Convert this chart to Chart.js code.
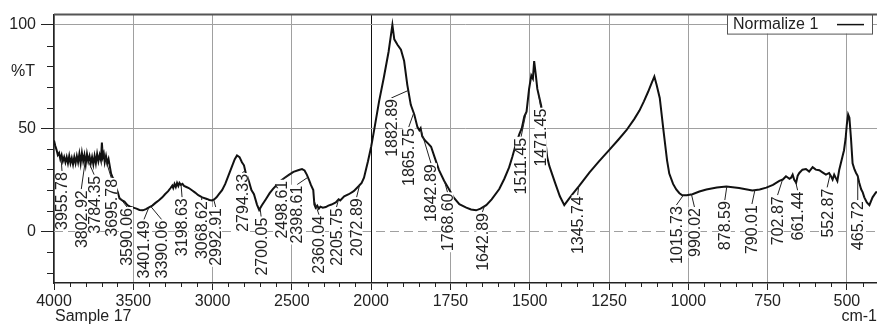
<!DOCTYPE html>
<html>
<head>
<meta charset="utf-8">
<title>Sample 17 - IR spectrum</title>
<script src="https://cdn.jsdelivr.net/npm/chart.js@4.4.1/dist/chart.umd.min.js"></script>
<style>
  html, body { margin: 0; padding: 0; background: #fff; }
  #chartBox { width: 877px; height: 329px; }
</style>
</head>
<body>
<div id="chartBox"><canvas id="irChart" width="877" height="329"></canvas></div>
<script>
// Spectrum: wavenumber (cm-1) and %T
const wavenumbers = [
  4000, 3992, 3984, 3976, 3968, 3960, 3952, 3944, 3936, 3928, 3920, 3912, 3904, 3896, 3888, 3880,
  3872, 3864, 3856, 3848, 3840, 3832, 3824, 3816, 3808, 3800, 3792, 3784, 3776, 3768, 3760, 3752,
  3744, 3736, 3728, 3720, 3712, 3704, 3698, 3692, 3686, 3680, 3672, 3664, 3656, 3648, 3640, 3630,
  3619, 3608, 3598, 3587, 3570, 3556, 3537, 3520, 3500, 3480, 3461, 3440, 3420, 3398, 3380, 3360,
  3340, 3317, 3300, 3280, 3265, 3254, 3248, 3240, 3232, 3224, 3216, 3209, 3200, 3190, 3180, 3165,
  3150, 3128, 3110, 3090, 3065, 3040, 3020, 3003, 2990, 2975, 2960, 2940, 2920, 2900, 2877, 2860,
  2846, 2830, 2815, 2802, 2790, 2783, 2770, 2755, 2739, 2720, 2706, 2690, 2664, 2640, 2620, 2594,
  2570, 2545, 2519, 2490, 2456, 2436, 2420, 2405, 2392, 2380, 2365, 2358, 2350, 2340, 2330, 2320,
  2305, 2286, 2270, 2250, 2223, 2205, 2195, 2170, 2141, 2110, 2078, 2060, 2045, 2033, 2020, 2010,
  2000, 1991, 1975, 1960, 1945, 1933, 1927, 1917, 1906, 1896, 1886, 1875, 1864, 1854, 1848, 1844,
  1839, 1830, 1820, 1811, 1800, 1786, 1770, 1754, 1740, 1722, 1700, 1685, 1669, 1655, 1637, 1620,
  1596, 1580, 1565, 1555, 1545, 1533, 1525, 1517, 1510, 1502, 1495, 1490, 1486, 1481, 1476, 1470,
  1464, 1455, 1445, 1438, 1420, 1405, 1391, 1380, 1365, 1344, 1312, 1281, 1249, 1220, 1195, 1170,
  1154, 1140, 1127, 1115, 1107, 1100, 1090, 1078, 1067, 1060, 1048, 1038, 1028, 1019, 1005, 987,
  965, 943, 910, 880, 840, 798, 775, 754, 733, 713, 702, 692, 681, 676, 671, 666,
  660, 655, 650, 640, 629, 619, 608, 598, 587, 577, 566, 556, 550, 545, 540, 535,
  530, 524, 519, 514, 509, 504, 500, 496, 492, 487, 482, 476, 471, 466, 461, 455,
  450, 445, 437, 429, 419, 408, 400
];
const transmittance = [
  44, 41.5, 39.5, 37, 38, 35, 37, 34, 36, 33.5, 36, 33, 36.5, 33, 35.5, 32.5,
  36, 33, 36.5, 33.5, 37.5, 33, 38, 34, 37, 32.5, 37.5, 34, 36.5, 33, 36, 32.5,
  36.5, 33, 37.5, 34, 37, 34.5, 43, 36, 37.5, 33.5, 36.5, 33, 35, 31.5, 28, 26,
  25, 21, 19, 16, 15, 14.5, 12.7, 12, 11.5, 11, 10.4, 10.2, 10.8, 11.8, 12.5, 13.8,
  15, 16.5, 18, 19.5, 21, 22.2, 21, 23, 21.5, 23.5, 22, 23.5, 22.5, 23, 22, 21.5,
  21, 19.8, 18.8, 17.5, 16.5, 15.8, 15.2, 15, 15.5, 16.5, 18, 20, 23, 27, 31.6, 35,
  36.8, 36, 33.5, 32, 28, 27, 24, 20, 18, 13, 10.4, 12.5, 15.6, 18.5, 20.5, 22.6,
  24.5, 26, 27.4, 28.8, 29.7, 30.2, 29.5, 27.4, 25, 22.5, 20, 13, 11.5, 12.5, 11, 12,
  11.5, 11.8, 12.5, 13, 14, 15.5, 15, 17, 18, 19.5, 22, 23.5, 26, 29.9, 34, 37.5,
  41, 48.7, 63, 74.5, 87, 100, 93, 90.4, 88, 82.5, 71, 61.3, 56.6, 50.5, 49, 50,
  46, 44, 42.5, 41, 36, 29.7, 24.5, 20.3, 16.5, 13.2, 11.5, 10.6, 10.2, 11, 12.7, 15.5,
  20.5, 25.5, 31, 36, 41.5, 47, 50, 55.7, 58, 69, 75.5, 74, 82.5, 76, 69, 65,
  61, 50, 36, 31.6, 23.5, 17, 12.7, 15, 18, 22, 28.5, 34, 39.5, 44.5, 49, 54.5,
  58.5, 63, 67.5, 72, 75, 71, 64.6, 48.6, 34.4, 28, 23, 20.3, 18.5, 17.5, 17.5, 18,
  19.3, 20.3, 21.2, 21.7, 21, 19.8, 20.3, 21.2, 22.5, 24.5, 25.1, 26.7, 25.5, 26, 27.5, 25,
  23.6, 27, 28.3, 29.9, 30.2, 29, 31.1, 29.9, 29.6, 28.6, 27.5, 28.3, 26.7, 25.1, 27.5, 25.9,
  24.4, 29.9, 33, 36.2, 39.3, 45, 52, 56.6, 55, 45, 33, 30, 28.3, 26.9, 23.6, 20.4,
  18.9, 16.5, 14, 12.7, 16.5, 19, 19
];

// Peak picks printed on the plot
const peakPicks = [
  3955.78, 3802.92, 3784.35, 3695.78, 3590.06, 3401.49, 3390.06, 3198.63, 3068.62, 2992.91,
  2794.33, 2700.05, 2498.61, 2398.61, 2360.04, 2205.75, 2072.89, 1882.89, 1865.75, 1842.89,
  1768.60, 1642.89, 1511.45, 1471.45, 1345.74, 1015.73, 990.02, 878.59, 790.01, 702.87,
  661.44, 552.87, 465.72
];

// Axis ticks
const xTickLabels = [4000, 3500, 3000, 2500, 2000, 1750, 1500, 1250, 1000, 750, 500];
const yTickLabels = [0, 50, 100];

// Where each peak label sits: sideways shift (px) and the %T level of the text end
const labelShift = [
  1, -4, 6, 9, 8, -5, 11, 1, 0, 2,
  -3, 1, -10, -11, 5, -2, -3, -17, -5, 10,
  3, -2, -5, 2, -1, -7, 3, -2, -3, -5,
  2, -3, 0
];
const labelTop = [
  29.2, 20.4, 27.4, 25.9, 11.8, 5.7, 5.7, 16.5, 15.1, 11.8,
  28.3, 7.1, 25, 22.6, 8, 11.8, 16.5, 64.6, 50.5, 33,
  18.9, 9.4, 45.8, 59.9, 17.5, 12.7, 11.8, 15.1, 13.2, 17.5,
  19.8, 21.2, 15.1
];

// The x axis is twice as stretched below 2000 cm-1
function toAxis(wn) {
  return wn >= 2000 ? 4000 - wn : 2000 + (2000 - wn) * 2;
}
function fromAxis(u) {
  return u <= 2000 ? 4000 - u : 2000 - (u - 2000) / 2;
}

// %T of the curve at a wavenumber (for the label leader lines)
function curveAt(wn) {
  for (let i = 0; i < wavenumbers.length - 1; i++) {
    const a = wavenumbers[i], b = wavenumbers[i + 1];
    if (wn <= a && wn >= b) {
      const t = (a - wn) / (a - b);
      return transmittance[i] + t * (transmittance[i + 1] - transmittance[i]);
    }
  }
  return transmittance[transmittance.length - 1];
}

const FONT = '"Liberation Sans", Arial, Helvetica, sans-serif';

const spectrumDecor = {
  id: 'spectrumDecor',
  beforeDatasetsDraw(chart) {
    const { ctx, chartArea, scales } = chart;
    // dashed zero line
    const y0 = Math.round(scales.y.getPixelForValue(0)) + 0.5;
    ctx.save();
    ctx.strokeStyle = '#a0a0a0';
    ctx.lineWidth = 1;
    ctx.setLineDash([9, 5]);
    ctx.beginPath();
    ctx.moveTo(chartArea.left, y0);
    ctx.lineTo(chartArea.right, y0);
    ctx.stroke();
    ctx.restore();
  },
  afterDatasetsDraw(chart) {
    const { ctx, chartArea, scales } = chart;
    const xs = scales.x, ys = scales.y;
    ctx.save();

    // leader lines from the curve to each label
    ctx.strokeStyle = '#222';
    ctx.lineWidth = 1;
    peakPicks.forEach((wn, i) => {
      const px = xs.getPixelForValue(toAxis(wn));
      const py = ys.getPixelForValue(curveAt(wn));
      const lx = px + labelShift[i];
      const ly = ys.getPixelForValue(labelTop[i]);
      ctx.beginPath();
      ctx.moveTo(px, py);
      ctx.lineTo(lx, ly);
      ctx.stroke();
    });

    // peak labels, written upwards on a white box
    ctx.font = '16px ' + FONT;
    ctx.textAlign = 'right';
    ctx.textBaseline = 'middle';
    peakPicks.forEach((wn, i) => {
      const text = wn.toFixed(2);
      const lx = xs.getPixelForValue(toAxis(wn)) + labelShift[i];
      const ly = ys.getPixelForValue(labelTop[i]) + 1;
      const w = ctx.measureText(text).width;
      ctx.save();
      ctx.translate(lx, ly);
      ctx.rotate(-Math.PI / 2);
      ctx.fillStyle = '#fff';
      ctx.fillRect(-w - 1, -6, w + 2, 12);
      ctx.fillStyle = '#222';
      ctx.fillText(text, 0, 1);
      ctx.restore();
    });

    // minor ticks
    ctx.strokeStyle = '#222';
    ctx.lineWidth = 1;
    ctx.beginPath();
    for (let u = 100; u < xs.max; u += 100) {
      if (u % 500 === 0) continue;
      const x = Math.round(xs.getPixelForValue(u)) + 0.5;
      ctx.moveTo(x, chartArea.bottom);
      ctx.lineTo(x, chartArea.bottom + 4);
    }
    for (let v = -20; v <= 100; v += 10) {
      if (v % 50 === 0) continue;
      const y = Math.round(ys.getPixelForValue(v)) + 0.5;
      ctx.moveTo(chartArea.left - 7, y);
      ctx.lineTo(chartArea.left, y);
    }
    ctx.stroke();

    // axis captions
    ctx.fillStyle = '#222';
    ctx.font = '16px ' + FONT;
    ctx.textBaseline = 'middle';
    ctx.textAlign = 'right';
    ctx.fillText('%T', 35, 72);
    ctx.fillText('cm-1', 877, 317);
    ctx.textAlign = 'left';
    ctx.fillText('Sample 17', 55, 317);

    // legend box in the top right corner
    ctx.fillStyle = '#fff';
    ctx.fillRect(727, chartArea.top, 146, 19);
    ctx.strokeStyle = '#555';
    ctx.strokeRect(727.5, chartArea.top, 145, 19.5);
    ctx.fillStyle = '#222';
    ctx.fillText(chart.data.datasets[0].label, 733, chartArea.top + 10);
    ctx.strokeStyle = '#111';
    ctx.lineWidth = 1.5;
    ctx.beginPath();
    ctx.moveTo(837, chartArea.top + 10);
    ctx.lineTo(864, chartArea.top + 10);
    ctx.stroke();

    // top frame line
    ctx.strokeStyle = '#555';
    ctx.lineWidth = 2;
    ctx.beginPath();
    ctx.moveTo(chartArea.left, chartArea.top);
    ctx.lineTo(chartArea.right, chartArea.top);
    ctx.stroke();

    ctx.restore();
  }
};

const ctxSpectrum = document.getElementById('irChart').getContext('2d');
const spectrumChart = new Chart(ctxSpectrum, {
  type: 'line',
  data: {
    datasets: [{
      label: 'Normalize 1',
      data: wavenumbers.map((wn, i) => ({ x: toAxis(wn), y: transmittance[i] })),
      borderColor: '#111',
      borderWidth: 2,
      pointRadius: 0,
      tension: 0,
      fill: false
    }]
  },
  options: {
    responsive: false,
    animation: false,
    layout: { padding: { top: 7, right: 0, left: 0, bottom: 0 } },
    plugins: {
      legend: { display: false },
      tooltip: { enabled: false }
    },
    scales: {
      x: {
        type: 'linear',
        min: 0,
        max: 5190,
        afterBuildTicks: (scale) => { scale.ticks = xTickLabels.map((w) => ({ value: toAxis(w) })); },
        afterFit: (scale) => { scale.height = 46; },
        ticks: {
          callback: (value) => String(Math.round(fromAxis(value))),
          font: { family: FONT, size: 16 },
          color: '#222',
          padding: 2,
          maxRotation: 0,
          autoSkip: false
        },
        grid: {
          color: (c) => (c.tick && c.tick.value === 2000 ? '#111' : '#a0a0a0'),
          lineWidth: 1,
          tickLength: 7,
          tickColor: '#222'
        },
        border: { color: '#222', width: 1.5 }
      },
      y: {
        min: -25,
        max: 105,
        afterBuildTicks: (scale) => { scale.ticks = yTickLabels.map((v) => ({ value: v })); },
        afterFit: (scale) => { scale.width = 54; },
        ticks: {
          font: { family: FONT, size: 16 },
          color: '#222',
          padding: 5
        },
        grid: {
          color: (c) => (c.tick && c.tick.value === 0 ? 'rgba(0,0,0,0)' : '#a0a0a0'),
          lineWidth: 1,
          tickLength: 13,
          tickColor: '#222'
        },
        border: { color: '#222', width: 1.5 }
      }
    }
  },
  plugins: [spectrumDecor]
});
</script>
</body>
</html>
